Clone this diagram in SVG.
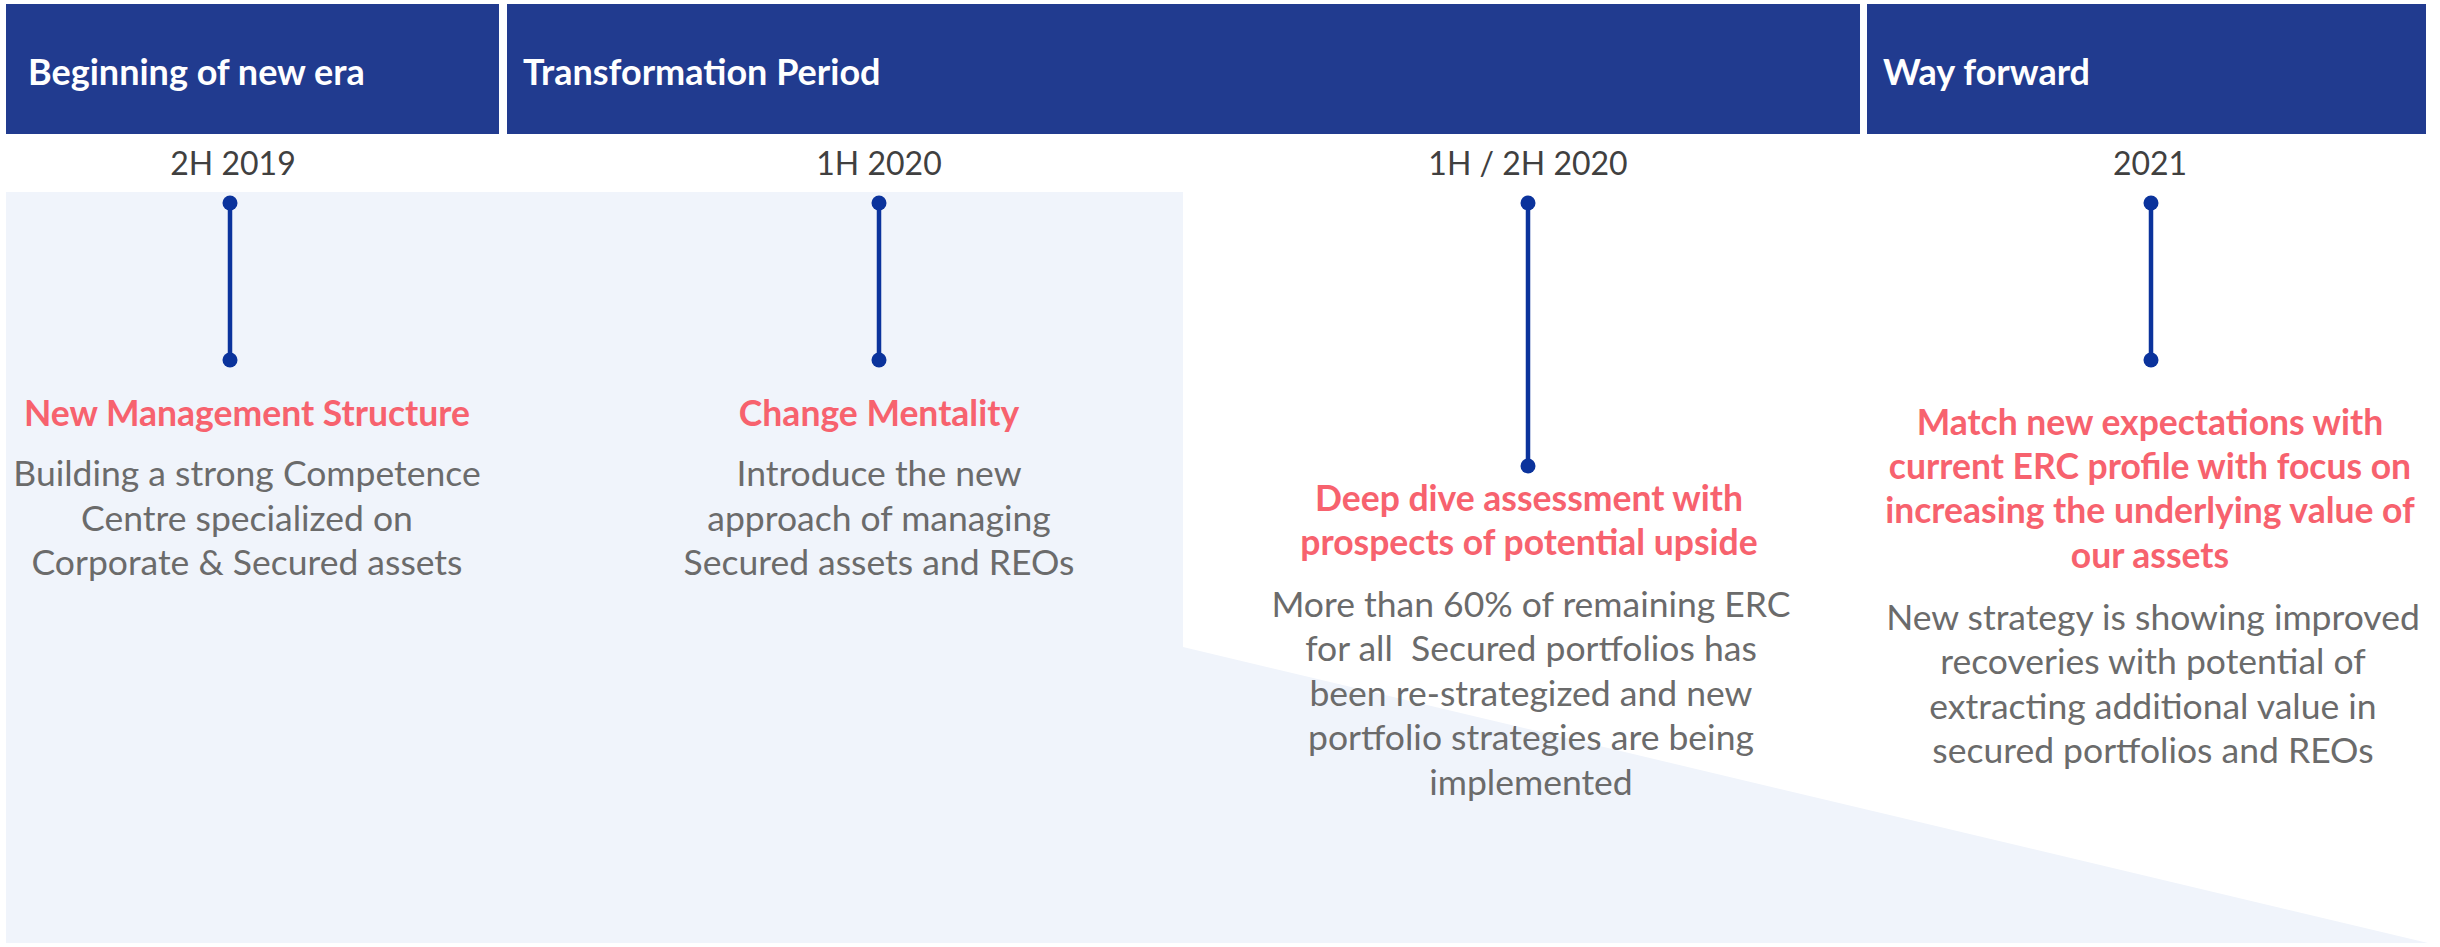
<svg xmlns="http://www.w3.org/2000/svg" width="2440" height="947" viewBox="0 0 2440 947">
<style>
.hdr{fill:#213B8F}
.htxt{font-family:Lato,"Open Sans",sans-serif;font-weight:bold;font-size:36px;fill:#ffffff}
.date{font-family:Lato,"Open Sans",sans-serif;font-size:32px;fill:#404040;text-anchor:middle}
.ttl{font-family:Lato,"Open Sans",sans-serif;font-weight:bold;font-size:35.5px;fill:#F7626E;text-anchor:middle}
.dsc{font-family:Lato,"Open Sans",sans-serif;font-size:35.5px;fill:#6B6B6B;text-anchor:middle}
.stem{stroke:#0B339C;stroke-width:4.5}
.dot{fill:#0B339C}
</style>
<rect width="2440" height="947" fill="#ffffff"/>
<polygon points="6,192 1183,192 1183,647 2428,943 6,943" fill="#F0F4FB"/>
<g id="header-beginning">
<rect class="hdr" x="6" y="4" width="493" height="130"/>
<text class="htxt" x="28" y="85">Beginning of new era</text>
</g>
<g id="header-transformation">
<rect class="hdr" x="507" y="4" width="1353" height="130"/>
<text class="htxt" x="523" y="85">Transformation Period</text>
</g>
<g id="header-way-forward">
<rect class="hdr" x="1867" y="4" width="559" height="130"/>
<text class="htxt" x="1883" y="85">Way forward</text>
</g>
<g id="connectors">
<line class="stem" x1="230" y1="203" x2="230" y2="360"/>
<circle class="dot" cx="230" cy="203" r="7.5"/>
<circle class="dot" cx="230" cy="360" r="7.5"/>
<line class="stem" x1="879" y1="203" x2="879" y2="360"/>
<circle class="dot" cx="879" cy="203" r="7.5"/>
<circle class="dot" cx="879" cy="360" r="7.5"/>
<line class="stem" x1="1528" y1="203" x2="1528" y2="466"/>
<circle class="dot" cx="1528" cy="203" r="7.5"/>
<circle class="dot" cx="1528" cy="466" r="7.5"/>
<line class="stem" x1="2151" y1="203" x2="2151" y2="360"/>
<circle class="dot" cx="2151" cy="203" r="7.5"/>
<circle class="dot" cx="2151" cy="360" r="7.5"/>
</g>
<g id="node-2h2019">
<text class="date" x="233" y="175">2H 2019</text>
<text class="ttl" x="247" y="426">New Management Structure</text>
<text class="dsc" x="247" y="486">Building a strong Competence</text>
<text class="dsc" x="247" y="531">Centre specialized on</text>
<text class="dsc" x="247" y="575">Corporate &amp; Secured assets</text>
</g>
<g id="node-1h2020">
<text class="date" x="879" y="175">1H 2020</text>
<text class="ttl" x="879" y="426">Change Mentality</text>
<text class="dsc" x="879" y="486">Introduce the new</text>
<text class="dsc" x="879" y="531">approach of managing</text>
<text class="dsc" x="879" y="575">Secured assets and REOs</text>
</g>
<g id="node-1h2h2020">
<text class="date" x="1528" y="175">1H / 2H 2020</text>
<text class="ttl" x="1529" y="511">Deep dive assessment with</text>
<text class="ttl" x="1529" y="555">prospects of potential upside</text>
<text class="dsc" x="1531" y="617">More than 60% of remaining ERC</text>
<text class="dsc" x="1531" y="661" xml:space="preserve">for all  Secured portfolios has</text>
<text class="dsc" x="1531" y="706">been re-strategized and new</text>
<text class="dsc" x="1531" y="750">portfolio strategies are being</text>
<text class="dsc" x="1531" y="795">implemented</text>
</g>
<g id="node-2021">
<text class="date" x="2150" y="175">2021</text>
<text class="ttl" x="2150" y="435">Match new expectations with</text>
<text class="ttl" x="2150" y="479">current ERC profile with focus on</text>
<text class="ttl" x="2150" y="523">increasing the underlying value of</text>
<text class="ttl" x="2150" y="568">our assets</text>
<text class="dsc" x="2153" y="630">New strategy is showing improved</text>
<text class="dsc" x="2153" y="674">recoveries with potential of</text>
<text class="dsc" x="2153" y="719">extracting additional value in</text>
<text class="dsc" x="2153" y="763">secured portfolios and REOs</text>
</g>
</svg>
